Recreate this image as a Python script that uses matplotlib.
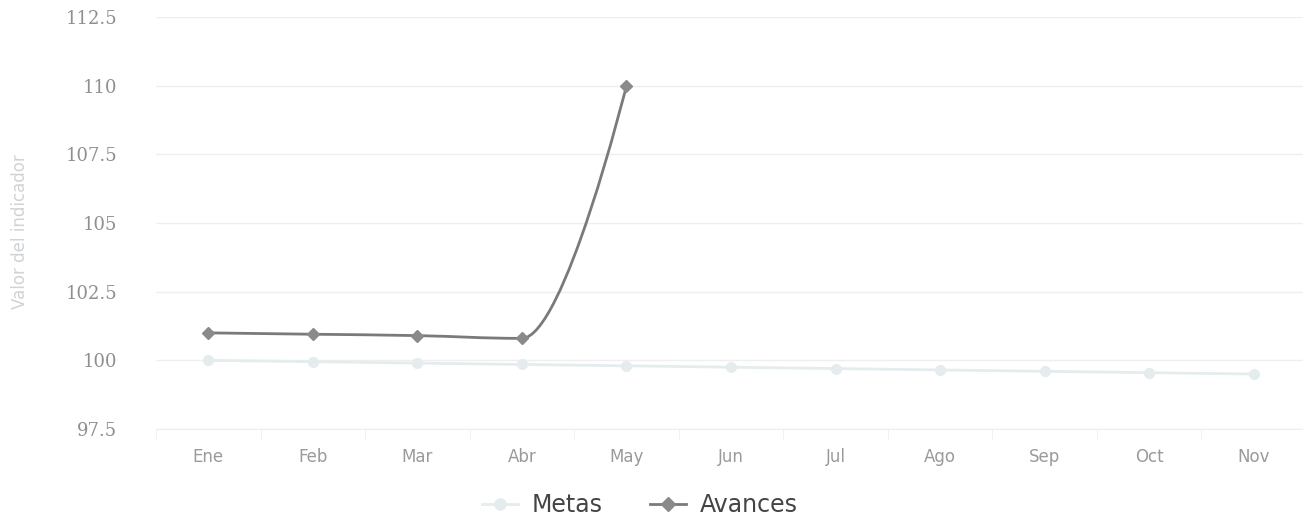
import matplotlib
matplotlib.use("Agg")
import matplotlib.pyplot as plt
from matplotlib.path import Path
from matplotlib.patches import PathPatch
from matplotlib.lines import Line2D
import numpy as np

months = ["Ene", "Feb", "Mar", "Abr", "May", "Jun", "Jul", "Ago", "Sep", "Oct", "Nov"]
metas = [100.0, 99.95, 99.9, 99.85, 99.8, 99.75, 99.7, 99.65, 99.6, 99.55, 99.5]
avances = [101.0, 100.95, 100.9, 100.8, 110.0]
yticks = [97.5, 100, 102.5, 105, 107.5, 110, 112.5]
ytick_labels = ["97.5", "100", "102.5", "105", "107.5", "110", "112.5"]


def spline_path(xs, ys, smoothing=1.5):
    """Highcharts-style spline through the points (cubic Bezier)."""
    n = len(xs)
    denom = smoothing + 1
    lc = [(x, y) for x, y in zip(xs, ys)]
    rc = [(x, y) for x, y in zip(xs, ys)]
    for i in range(1, n - 1):
        px, py = xs[i], ys[i]
        lx, ly = xs[i - 1], ys[i - 1]
        nx, ny = xs[i + 1], ys[i + 1]
        lcx = (smoothing * px + lx) / denom
        lcy = (smoothing * py + ly) / denom
        rcx = (smoothing * px + nx) / denom
        rcy = (smoothing * py + ny) / denom
        if rcx != lcx:
            corr = ((rcy - lcy) * (rcx - px)) / (rcx - lcx) + py - rcy
            lcy += corr
            rcy += corr
        if lcy > ly and lcy > py:
            lcy = max(ly, py)
            rcy = 2 * py - lcy
        elif lcy < ly and lcy < py:
            lcy = min(ly, py)
            rcy = 2 * py - lcy
        if rcy > ny and rcy > py:
            rcy = max(ny, py)
            lcy = 2 * py - rcy
        elif rcy < ny and rcy < py:
            rcy = min(ny, py)
            lcy = 2 * py - rcy
        lc[i] = (lcx, lcy)
        rc[i] = (rcx, rcy)
    verts = [(xs[0], ys[0])]
    codes = [Path.MOVETO]
    for i in range(1, n):
        verts += [rc[i - 1], lc[i], (xs[i], ys[i])]
        codes += [Path.CURVE4] * 3
    return Path(verts, codes)


W, H = 1303, 527
fig = plt.figure(figsize=(W / 100, H / 100), dpi=100)
ax = fig.add_axes([156 / W, 1 - 429 / H, (1306 - 156) / W, (429 - 17) / H])

ax.set_xlim(-0.5, len(months) - 0.5)
ax.set_ylim(97.5, 112.5)

metas_color = "#e4ecee"
av_color = "#7a7a7a"

xm = np.arange(len(metas), dtype=float)
ax.add_patch(PathPatch(spline_path(list(xm), metas), fill=False, edgecolor=metas_color,
                       lw=2, zorder=3))
ax.plot(xm, metas, linestyle="none", marker="o", ms=7, color=metas_color, zorder=4)

xa = np.arange(len(avances), dtype=float)
ax.add_patch(PathPatch(spline_path(list(xa), avances), fill=False, edgecolor=av_color,
                       lw=2, zorder=5))
ax.plot(xa, avances, linestyle="none", marker="D", ms=6.5, color="#8a8a8a", zorder=6)

ax.set_yticks(yticks)
ax.set_yticklabels(ytick_labels)
ax.set_xticks(np.arange(len(months)))
ax.set_xticklabels(months)
ax.set_xticks(np.arange(-0.5, len(months), 1.0), minor=True)
ax.tick_params(axis="y", length=0, pad=28, labelsize=13, labelcolor="#8f8f8f")
ax.tick_params(axis="x", which="major", length=0, pad=14, labelsize=12, labelcolor="#9a9a9a")
ax.tick_params(axis="x", which="minor", length=8, color="#f0f0f0")
for lab in ax.get_yticklabels():
    lab.set_family("DejaVu Serif")

ax.grid(axis="y", color="#efefef", lw=1)
ax.set_axisbelow(True)
for s in ["top", "right", "left"]:
    ax.spines[s].set_visible(False)
ax.spines["bottom"].set_color("#eeeeee")

fig.text(20 / W, 1 - 232 / H, "Valor del indicador", rotation=90, ha="center", va="center",
         fontsize=12, color="#cfd3d6")

handles = [
    Line2D([0], [0], color=metas_color, lw=2, marker="o", ms=8),
    Line2D([0], [0], color=av_color, lw=2, marker="D", ms=7, markerfacecolor="#8a8a8a",
           markeredgecolor="#8a8a8a"),
]
leg = fig.legend(handles, ["Metas", "Avances"], loc="center", bbox_to_anchor=(640 / W, 1 - 505 / H),
                 ncol=2, frameon=False, fontsize=17, handlelength=1.5, columnspacing=2.0,
                 handletextpad=0.6)
for t in leg.get_texts():
    t.set_color("#444444")

fig.savefig("out.png", dpi=100)
